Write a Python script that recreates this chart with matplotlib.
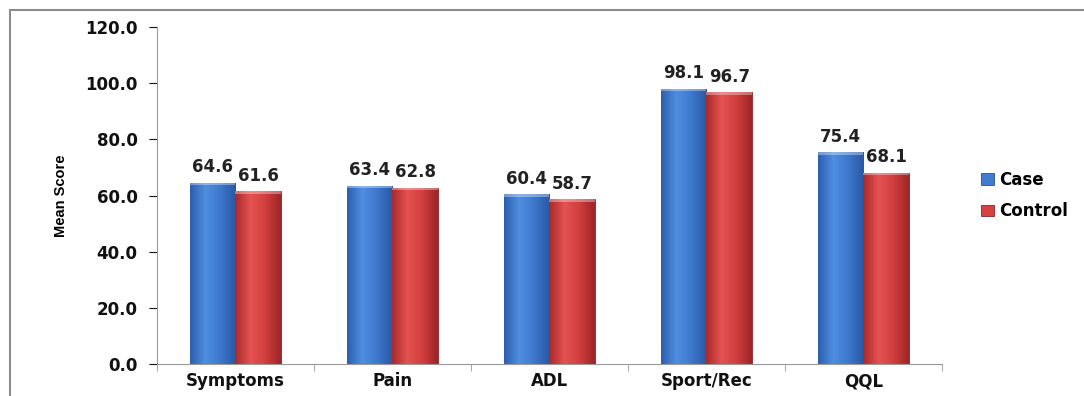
import numpy as np
import matplotlib.pyplot as plt
from matplotlib.patches import Rectangle
from matplotlib.colors import LinearSegmentedColormap

categories = ['Symptoms', 'Pain', 'ADL', 'Sport/Rec', 'QQL']
case_scores = [64.6, 63.4, 60.4, 98.1, 75.4]
control_scores = [61.6, 62.8, 58.7, 96.7, 68.1]
series_names = ['Case', 'Control']

plt.rcParams['font.family'] = ['DejaVu Sans']

fig = plt.figure(figsize=(10.84, 3.96), dpi=100)
ax = fig.add_axes([0.1448, 0.0808, 0.7242, 0.851])

# outer chart frame (only left and top edges are visible)
fig.patches.append(Rectangle((0.0095, -0.1), 1.2, 1.075, transform=fig.transFigure,
                             fill=False, edgecolor='#8c8c8c', linewidth=1.5))

x = np.arange(len(categories))
w = 0.29

blue_cmap = LinearSegmentedColormap.from_list('b', ['#2d5fae', '#4f8ee0', '#3d77cc', '#2a58a3'])
red_cmap = LinearSegmentedColormap.from_list('r', ['#a82a2a', '#e45252', '#d13e3e', '#9c2626'])

def shaded_bars(xs, vals, cmap, edge, label):
    bars = ax.bar(xs, vals, w, color=cmap(0.6), edgecolor=edge, linewidth=0.6,
                  label=label, zorder=2)
    grad = np.linspace(0, 1, 64).reshape(1, -1)
    for b in bars:
        x0, y0 = b.get_x(), b.get_y()
        im = ax.imshow(grad, cmap=cmap, aspect='auto', zorder=2.5,
                       extent=(x0, x0 + b.get_width(), y0, y0 + b.get_height()))
        im.set_clip_path(b)
        # light cap on top of the bar
        ax.add_patch(Rectangle((x0, b.get_height() - 0.9), b.get_width(), 0.9,
                               facecolor='white', alpha=0.35, linewidth=0, zorder=3))
    return bars

b1 = shaded_bars(x - w / 2, case_scores, blue_cmap, '#2a4f8f', series_names[0])
b2 = shaded_bars(x + w / 2, control_scores, red_cmap, '#8a2222', series_names[1])

for bars, vals in ((b1, case_scores), (b2, control_scores)):
    for b, v in zip(bars, vals):
        ax.text(b.get_x() + b.get_width() / 2, v + 2.3, f'{v:.1f}', ha='center', va='bottom',
                fontsize=12, fontweight='bold', color='#222222')

ax.set_xlim(-0.5, len(categories) - 0.5)
ax.set_ylim(0, 120)
ax.set_yticks(np.arange(0, 121, 20))
ax.set_yticklabels([f'{t:.1f}' for t in np.arange(0, 121, 20)], fontsize=12, fontweight='bold')
ax.set_xticks(x)
ax.set_xticklabels(categories, fontsize=12, fontweight='bold')
ax.set_xticks(np.arange(-0.5, len(categories)), minor=True)
ax.tick_params(axis='x', which='major', length=0, pad=6)
ax.tick_params(axis='x', which='minor', length=5, color='#999999')
ax.tick_params(axis='y', length=6, color='#999999', pad=8)
ax.tick_params(colors='#111111', which='major')

for s in ('top', 'right'):
    ax.spines[s].set_visible(False)
for s in ('left', 'bottom'):
    ax.spines[s].set_color('#999999')

ax.set_ylabel('Mean Score', family=['Liberation Sans', 'DejaVu Sans'],
              fontsize=10.5, fontweight='bold', labelpad=12)

leg = ax.legend(loc='center left', bbox_to_anchor=(1.03, 0.5), frameon=False,
                prop={'size': 12, 'weight': 'bold'}, handlelength=0.8, handleheight=0.7,
                handletextpad=0.3, labelspacing=0.8)

fig.savefig('out.png', dpi=100)
